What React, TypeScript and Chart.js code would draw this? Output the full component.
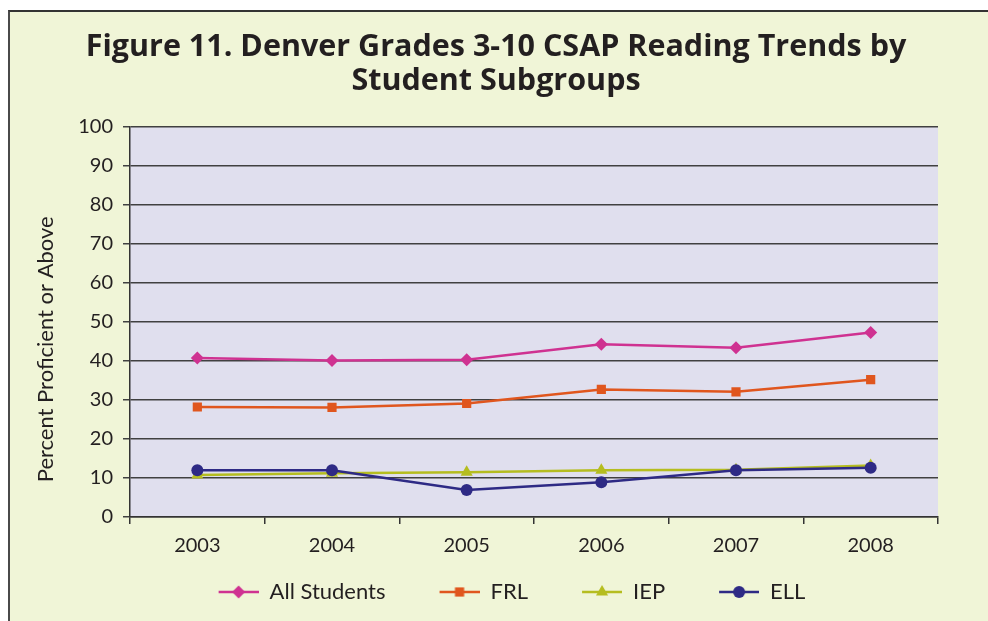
import React, { useEffect, useRef } from "react";
import { Chart, registerables } from "chart.js";

Chart.register(...registerables);

const years = ["2003", "2004", "2005", "2006", "2007", "2008"];
const allStudents = [40.8, 40.1, 40.3, 44.3, 43.4, 47.3];
const frl = [28.2, 28.1, 29.1, 32.7, 32.1, 35.2];
const iep = [10.8, 11.2, 11.5, 12.0, 12.1, 13.2];
const ell = [12.0, 12.0, 6.9, 8.9, 12.0, 12.6];
const seriesNames = ["All Students", "FRL", "IEP", "ELL"];
const titleLines = ["Figure 11. Denver Grades 3-10 CSAP Reading Trends by", "Student Subgroups"];
const yTitle = "Percent Proficient or Above";

const COLORS = ["#cf3291", "#e0561e", "#b5bd1f", "#2e2a85"];
const STYLES = ["rectRot", "rect", "triangle", "circle"];
const RADII = [6.5, 6.5, 7, 6];
const FONT = "Lato, 'Open Sans', sans-serif";
const TITLE_FONT = "'Open Sans', Lato, sans-serif";
const TEXT = "#231f20";
const ICON_W = 72;

function makeIcon(color: string, style: string, r: number) {
  const c = document.createElement("canvas");
  c.width = ICON_W;
  c.height = 16;
  const ctx = c.getContext("2d")!;
  ctx.strokeStyle = color;
  ctx.fillStyle = color;
  ctx.lineWidth = 2.5;
  ctx.beginPath();
  ctx.moveTo(ICON_W - 40, 8);
  ctx.lineTo(ICON_W, 8);
  ctx.stroke();
  const x = ICON_W - 20, y = 8;
  ctx.beginPath();
  if (style === "rectRot") {
    ctx.moveTo(x, y - r);
    ctx.lineTo(x + r, y);
    ctx.lineTo(x, y + r);
    ctx.lineTo(x - r, y);
  } else if (style === "rect") {
    const s = r * Math.SQRT1_2;
    ctx.rect(x - s, y - s, 2 * s, 2 * s);
  } else if (style === "triangle") {
    ctx.moveTo(x, y - r);
    ctx.lineTo(x + r * 0.866, y + r * 0.5);
    ctx.lineTo(x - r * 0.866, y + r * 0.5);
  } else {
    ctx.arc(x, y, r, 0, Math.PI * 2);
  }
  ctx.closePath();
  ctx.fill();
  return c;
}

export default function App() {
  const ref = useRef<HTMLCanvasElement | null>(null);

  useEffect(() => {
    const canvas = ref.current;
    if (!canvas) return;
    const seriesData = [allStudents, frl, iep, ell];
    const icons = COLORS.map((c, i) => makeIcon(c, STYLES[i], RADII[i]));

    const bgPlugin = {
      id: "plotBg",
      beforeDraw(chart: any) {
        const { ctx, chartArea } = chart;
        ctx.save();
        ctx.fillStyle = "#e0dfee";
        ctx.fillRect(chartArea.left, chartArea.top, chartArea.right - chartArea.left, chartArea.bottom - chartArea.top);
        ctx.restore();
      },
    };
    const yTitlePlugin = {
      id: "yTitle",
      afterDraw(chart: any) {
        const { ctx, chartArea } = chart;
        ctx.save();
        ctx.translate(36, chartArea.top + (chartArea.bottom - chartArea.top) * 0.57);
        ctx.rotate(-Math.PI / 2);
        ctx.font = `22px ${FONT}`;
        ctx.fillStyle = TEXT;
        ctx.textAlign = "center";
        ctx.textBaseline = "middle";
        ctx.fillText(yTitle, 0, 0);
        ctx.restore();
      },
    };

    const chart = new Chart(canvas, {
      type: "line",
      data: {
        labels: years,
        datasets: seriesNames.map((name, i) => ({
          label: name,
          data: seriesData[i],
          borderColor: COLORS[i],
          backgroundColor: COLORS[i],
          borderWidth: 2.5,
          pointStyle: STYLES[i] as any,
          pointRadius: RADII[i],
          pointBorderWidth: 0,
          pointBackgroundColor: COLORS[i],
          tension: 0,
          order: 3 - i,
        })),
      },
      options: {
        animation: false,
        responsive: false,
        devicePixelRatio: 1,
        layout: { padding: { left: 0, right: 6, top: 0, bottom: 8 } },
        plugins: {
          title: {
            display: true,
            text: titleLines,
            color: TEXT,
            font: { family: TITLE_FONT, size: 30.5, weight: "bold", lineHeight: 34 / 30.5 },
            padding: { top: 18, bottom: 29 },
          },
          legend: {
            position: "bottom",
            labels: {
              usePointStyle: true,
              pointStyleWidth: ICON_W,
              padding: 22,
              color: TEXT,
              font: { family: FONT, size: 22 },
              sort: (a: any, b: any) => a.datasetIndex - b.datasetIndex,
              generateLabels(ch: any) {
                const items = Chart.defaults.plugins.legend.labels.generateLabels(ch);
                items.forEach((it: any) => {
                  it.pointStyle = icons[it.datasetIndex];
                });
                return items;
              },
            },
          },
          tooltip: { enabled: false },
        },
        scales: {
          x: {
            offset: true,
            grid: { display: true, drawOnChartArea: false, drawTicks: true, tickLength: 7, offset: true, color: "#333", lineWidth: 1.5 },
            border: { display: true, color: "#333", width: 1.5 },
            ticks: { color: TEXT, font: { family: FONT, size: 20 }, padding: 10 },
            afterFit(s: any) {
              s.height = 42;
            },
          },
          y: {
            min: 0,
            max: 100,
            ticks: { stepSize: 10, color: TEXT, font: { family: FONT, size: 20 }, padding: 10 },
            grid: { color: "#404040", lineWidth: 1.5, tickLength: 7 },
            border: { display: true, color: "#333", width: 1.5 },
            afterFit(s: any) {
              s.width = 120;
            },
          },
          yRight: {
            position: "right",
            display: true,
            grid: { display: false, drawTicks: false },
            border: { display: false },
            ticks: { display: false },
            afterFit(s: any) {
              s.width = 44;
            },
          },
        },
      },
      plugins: [bgPlugin, yTitlePlugin],
    } as any);
    return () => chart.destroy();
  }, []);

  return (
    <div
      style={{
        position: "fixed",
        left: 8,
        top: 10,
        width: 1000,
        height: 640,
        borderLeft: "2px solid #4a4a4a",
        borderTop: "2px solid #333",
        background: "#f0f5d7",
        overflow: "hidden",
      }}
    >
      <canvas ref={ref} width={978} height={609} style={{ display: "block", width: 978, height: 609 }} />
    </div>
  );
}
